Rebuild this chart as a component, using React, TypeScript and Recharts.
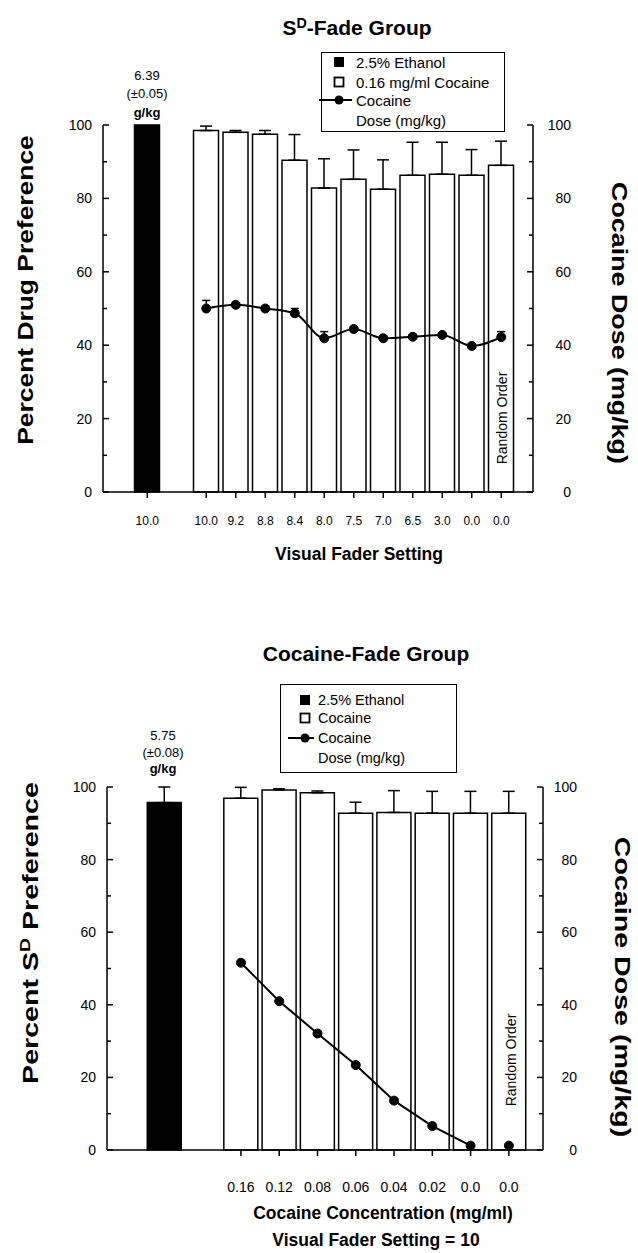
import React from 'react';
import { ComposedChart, Bar, Line, XAxis, YAxis, ErrorBar, Cell } from 'recharts';

// top panel: SD-fade group
const sdFaderLabels = ['10.0', '9.2', '8.8', '8.4', '8.0', '7.5', '7.0', '6.5', '3.0', '0.0', '0.0'];
const sdEthanolLabel = '10.0';
const sdEthanolPref = 100;
const sdCocainePref = [98.5, 98.0, 97.5, 90.4, 82.8, 85.2, 82.5, 86.3, 86.6, 86.3, 89.0];
const sdCocaineErr = [1.2, 0.5, 1.0, 7.0, 8.0, 8.0, 8.0, 9.0, 8.7, 7.0, 6.6];
const sdDose = [50.0, 51.0, 50.0, 48.7, 41.9, 44.4, 41.9, 42.3, 42.8, 39.8, 42.2];
const sdDoseErr = [2.2, 0.6, 0.6, 1.3, 1.8, 0.6, 0.6, 0.6, 0.6, 0.6, 1.5];

// bottom panel: cocaine-fade group
const cfConcLabels = ['0.16', '0.12', '0.08', '0.06', '0.04', '0.02', '0.0', '0.0'];
const cfEthanolPref = 95.7;
const cfEthanolErr = 4.3;
const cfCocainePref = [96.9, 99.2, 98.4, 92.8, 93.0, 92.8, 92.8, 92.8];
const cfCocaineErr = [3.0, 0.3, 0.5, 3.0, 6.0, 6.0, 6.0, 6.0];
const cfDose = [51.6, 41.0, 32.1, 23.4, 13.6, 6.6, 1.2]; // faded sessions, joined
const cfRandomDose = 1.2; // random order session, not joined

const yTicks = [0, 10, 20, 30, 40, 50, 60, 70, 80, 90, 100];

const FONT = '"Liberation Sans", Arial, Helvetica, sans-serif';

type Row = {
  key: string;
  label?: string;
  pref?: number;
  up?: number;
  dose?: number;
  doseUp?: number;
  lone?: number;
  black?: boolean;
};

const sdRows: Row[] = [
  { key: 'p0' },
  { key: 'eth', label: sdEthanolLabel, pref: sdEthanolPref, black: true },
  { key: 'p1' },
  ...sdFaderLabels.map((label, i) => ({
    key: `c${i}`,
    label,
    pref: sdCocainePref[i],
    up: sdCocaineErr[i],
    dose: sdDose[i],
    doseUp: sdDoseErr[i],
  })),
];

const cfRows: Row[] = [
  { key: 'p0' },
  { key: 'eth', pref: cfEthanolPref, up: cfEthanolErr, black: true },
  { key: 'p1' },
  ...cfConcLabels.map((label, i) => ({
    key: `c${i}`,
    label,
    pref: cfCocainePref[i],
    up: cfCocaineErr[i],
    dose: cfDose[i],
    lone: i === cfConcLabels.length - 1 ? cfRandomDose : undefined,
  })),
];

const upOnly = (field: 'up' | 'doseUp') => (d: Row) => (d[field] == null ? undefined : [0, d[field]]);

const makeXTick = (rows: Row[], fontSize: number, labelDy: number) => (props: any) => {
  const { x, y, payload } = props;
  const row = rows.find((r) => r.key === payload.value);
  if (!row || !row.label) return <g />;
  return (
    <g>
      <line x1={x} x2={x} y1={y} y2={y + 6} stroke="#000" strokeWidth={1.5} />
      <text x={x} y={y + labelDy} textAnchor="middle" fontSize={fontSize} fill="#000">
        {row.label}
      </text>
    </g>
  );
};

const LeftTick = (props: any) => {
  const { x, y, payload } = props;
  const major = payload.value % 20 === 0;
  return (
    <g>
      <line x1={x} x2={x + (major ? 6 : 4)} y1={y} y2={y} stroke="#000" strokeWidth={1.5} />
      {major && (
        <text x={x - 11} y={y + 5} textAnchor="end" fontSize={14} fill="#000">
          {payload.value}
        </text>
      )}
    </g>
  );
};

const makeRightTick = (offset: number) => (props: any) => {
  const { x, y, payload } = props;
  const major = payload.value % 20 === 0;
  return (
    <g>
      <line x1={x} x2={x - (major ? 6 : 4)} y1={y} y2={y} stroke="#000" strokeWidth={1.5} />
      {major && (
        <text x={x + offset} y={y + 5} textAnchor="end" fontSize={14} fill="#000">
          {payload.value}
        </text>
      )}
    </g>
  );
};

// centred label; stretch widens the text along its own baseline (the scan is taller than wide)
const Txt = ({ x, y, size, bold, rotate = 0, stretch = 1, children }: any) => (
  <div
    style={{
      position: 'absolute',
      left: x,
      top: y,
      transform: `translate(-50%, -50%) rotate(${rotate}deg) scaleX(${stretch})`,
      fontSize: size,
      fontWeight: bold ? 700 : 400,
      whiteSpace: 'nowrap',
      lineHeight: 1,
    }}
  >
    {children}
  </div>
);

const Sup = ({ children }: any) => (
  <span style={{ fontSize: '0.68em', verticalAlign: '0.55em' }}>{children}</span>
);

const LegendBox = ({ left, top, width, height, rows, symX, lineFrom, lineTo, textX, size, secondLabel }: any) => (
  <div
    style={{
      position: 'absolute',
      left,
      top,
      width,
      height,
      border: '1.5px solid #000',
      background: '#fff',
      boxSizing: 'border-box',
    }}
  >
    <svg width={width + 10} height={height} style={{ position: 'absolute', left: -8, top: -1, overflow: 'visible' }}>
      <rect x={symX + 8 - 5} y={rows[0] - 5} width={10} height={10} fill="#000" />
      <rect x={symX + 8 - 4.5} y={rows[1] - 4.5} width={9} height={9} fill="#fff" stroke="#000" strokeWidth={1.8} />
      <line x1={lineFrom + 8} x2={lineTo + 8} y1={rows[2]} y2={rows[2]} stroke="#000" strokeWidth={2} />
      <circle cx={symX + 8} cy={rows[2]} r={4.5} fill="#000" />
    </svg>
    {['2.5% Ethanol', secondLabel, 'Cocaine', 'Dose (mg/kg)'].map((t, i) => (
      <div
        key={i}
        style={{
          position: 'absolute',
          left: textX,
          top: rows[i] - 1,
          transform: 'translateY(-50%)',
          fontSize: size,
          lineHeight: 1,
          whiteSpace: 'nowrap',
        }}
      >
        {t}
      </div>
    ))}
  </div>
);

const dotStyle = { r: 4.5, fill: '#000', stroke: '#000', strokeWidth: 1 };

export default function App() {
  return (
    <div
      style={{
        position: 'absolute',
        left: 0,
        top: 0,
        width: 638,
        height: 1253,
        background: '#fff',
        fontFamily: FONT,
        color: '#000',
        overflow: 'hidden',
      }}
    >
      {/* top panel */}
      <div style={{ position: 'absolute', left: 0, top: 0 }}>
        <ComposedChart width={638} height={600} data={sdRows} margin={{ top: 125, right: 65, bottom: 78, left: 63 }}>
          <XAxis
            dataKey="key"
            type="category"
            interval={0}
            height={30}
            padding={{ left: 0, right: 17 }}
            tickLine={false}
            tickSize={0}
            tickMargin={0}
            axisLine={{ stroke: '#000', strokeWidth: 1.5 }}
            tick={makeXTick(sdRows, 12, 33)}
          />
          <YAxis
            yAxisId="left"
            width={40}
            domain={[0, 100]}
            ticks={yTicks}
            interval={0}
            tickLine={false}
            tickSize={0}
            tickMargin={0}
            axisLine={{ stroke: '#000', strokeWidth: 1.5 }}
            tick={LeftTick}
          />
          <YAxis
            yAxisId="right"
            orientation="right"
            width={40}
            domain={[0, 100]}
            ticks={yTicks}
            interval={0}
            tickLine={false}
            tickSize={0}
            tickMargin={0}
            axisLine={{ stroke: '#000', strokeWidth: 1.5 }}
            tick={makeRightTick(38)}
          />
          <Bar yAxisId="left" dataKey="pref" barSize={25} stroke="#000" strokeWidth={1.5} isAnimationActive={false}>
            {sdRows.map((r) => (
              <Cell key={r.key} fill={r.black ? '#000' : '#fff'} />
            ))}
            <ErrorBar dataKey={upOnly('up')} width={6} stroke="#000" strokeWidth={1.5} direction="y" />
          </Bar>
          <Line
            yAxisId="right"
            type="monotone"
            dataKey="dose"
            stroke="#000"
            strokeWidth={2}
            dot={dotStyle}
            activeDot={false}
            isAnimationActive={false}
          >
            <ErrorBar dataKey={upOnly('doseUp')} width={4} stroke="#000" strokeWidth={1.5} direction="y" />
          </Line>
        </ComposedChart>
      </div>

      {/* bottom panel */}
      <div style={{ position: 'absolute', left: 0, top: 600 }}>
        <ComposedChart width={638} height={653} data={cfRows} margin={{ top: 187, right: 55, bottom: 73, left: 67 }}>
          <XAxis
            dataKey="key"
            type="category"
            interval={0}
            height={30}
            padding={{ left: 0, right: 15 }}
            tickLine={false}
            tickSize={0}
            tickMargin={0}
            axisLine={{ stroke: '#000', strokeWidth: 1.5 }}
            tick={makeXTick(cfRows, 14, 42)}
          />
          <YAxis
            yAxisId="left"
            width={40}
            domain={[0, 100]}
            ticks={yTicks}
            interval={0}
            tickLine={false}
            tickSize={0}
            tickMargin={0}
            axisLine={{ stroke: '#000', strokeWidth: 1.5 }}
            tick={LeftTick}
          />
          <YAxis
            yAxisId="right"
            orientation="right"
            width={40}
            domain={[0, 100]}
            ticks={yTicks}
            interval={0}
            tickLine={false}
            tickSize={0}
            tickMargin={0}
            axisLine={{ stroke: '#000', strokeWidth: 1.5 }}
            tick={makeRightTick(34)}
          />
          <Bar yAxisId="left" dataKey="pref" barSize={34} stroke="#000" strokeWidth={1.5} isAnimationActive={false}>
            {cfRows.map((r) => (
              <Cell key={r.key} fill={r.black ? '#000' : '#fff'} />
            ))}
            <ErrorBar dataKey={upOnly('up')} width={6} stroke="#000" strokeWidth={1.5} direction="y" />
          </Bar>
          <Line
            yAxisId="right"
            type="linear"
            dataKey="dose"
            stroke="#000"
            strokeWidth={2}
            dot={dotStyle}
            activeDot={false}
            isAnimationActive={false}
          />
          <Line
            yAxisId="right"
            dataKey="lone"
            stroke="none"
            dot={dotStyle}
            activeDot={false}
            isAnimationActive={false}
          />
        </ComposedChart>
      </div>

      {/* top panel texts */}
      <Txt x={357} y={27} size={21} bold>
        S<Sup>D</Sup>-Fade Group
      </Txt>
      <Txt x={147} y={75} size={13}>6.39</Txt>
      <Txt x={147} y={93} size={13}>(±0.05)</Txt>
      <Txt x={147} y={112} size={13} bold>g/kg</Txt>
      <Txt x={502} y={418} size={14} rotate={-90}>Random Order</Txt>
      <Txt x={359} y={555} size={17.5} bold>Visual Fader Setting</Txt>
      <Txt x={26} y={290} size={22} bold rotate={-90} stretch={1.2}>Percent Drug Preference</Txt>
      <Txt x={619} y={323} size={22} bold rotate={90} stretch={1.22}>Cocaine Dose (mg/kg)</Txt>
      <LegendBox
        left={321}
        top={52}
        width={184}
        height={80}
        rows={[10, 30, 48, 68]}
        symX={17}
        lineFrom={-3}
        lineTo={30}
        textX={34}
        size={15}
        secondLabel="0.16 mg/ml Cocaine"
      />

      {/* bottom panel texts */}
      <Txt x={366} y={653} size={21} bold>Cocaine-Fade Group</Txt>
      <Txt x={163} y={735} size={13}>5.75</Txt>
      <Txt x={163} y={752} size={13}>(±0.08)</Txt>
      <Txt x={163} y={768} size={13} bold>g/kg</Txt>
      <Txt x={511} y={1060} size={14} rotate={-90}>Random Order</Txt>
      <Txt x={383} y={1214} size={17.5} bold>Cocaine Concentration (mg/ml)</Txt>
      <Txt x={376} y={1241} size={17.5} bold>Visual Fader Setting = 10</Txt>
      <Txt x={30} y={933} size={22} bold rotate={-90} stretch={1.3}>
        Percent S<Sup>D</Sup> Preference
      </Txt>
      <Txt x={622} y={987} size={22} bold rotate={90} stretch={1.3}>Cocaine Dose (mg/kg)</Txt>
      <LegendBox
        left={280}
        top={684}
        width={177}
        height={89}
        rows={[16, 34, 54, 74]}
        symX={24}
        lineFrom={7}
        lineTo={33}
        textX={37}
        size={14.5}
        secondLabel="Cocaine"
      />
    </div>
  );
}
